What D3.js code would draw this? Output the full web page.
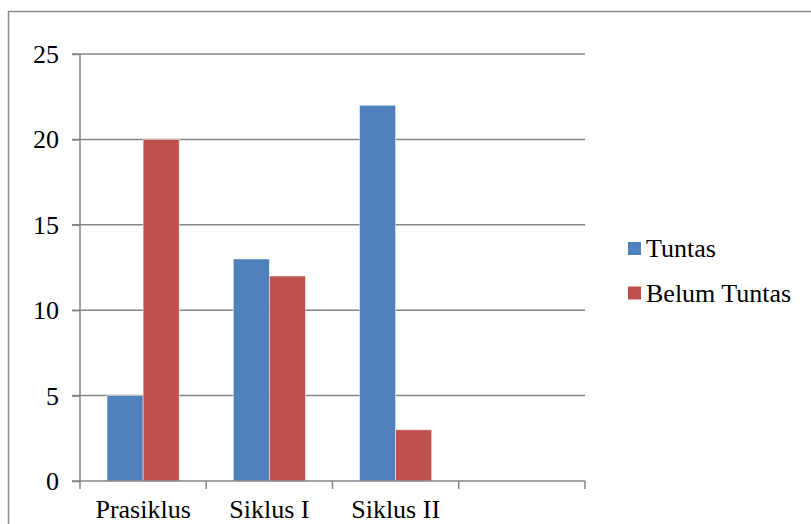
<!DOCTYPE html>
<html>
<head>
<meta charset="utf-8">
<script src="https://cdn.jsdelivr.net/npm/d3@7"></script>
<style>
  html, body { margin: 0; padding: 0; background: #fff; }
  svg { display: block; }
  svg text { font-family: "Times New Roman", "Liberation Serif", "DejaVu Serif", serif !important; fill: #000; }
</style>
</head>
<body>
<div id="chart"></div>
<script>
const categories = ["Prasiklus", "Siklus I", "Siklus II", ""];
const seriesNames = ["Tuntas", "Belum Tuntas"];
const tuntas = [5, 13, 22, null];
const belumTuntas = [20, 12, 3, null];
const yTicks = [0, 5, 10, 15, 20, 25];
const colors = ["#4F81BD", "#C0504D"];

(function () {
const W = 811, H = 524;
const svg = d3.select("#chart").append("svg").attr("width", W).attr("height", H);

// outer frame
svg.append("rect").attr("x", 8.5).attr("y", 11.5).attr("width", 830).attr("height", 540)
  .attr("fill", "none").attr("stroke", "#8c8c8c").attr("stroke-width", 1.5);

const pLeft = 80, pRight = 585, pTop = 54, pBottom = 481;
const x0 = d3.scaleBand().domain(categories).range([pLeft, pRight]).paddingInner(0).paddingOuter(0);
const bw = x0.bandwidth();
const barW = bw / 3.5;
const x1 = d3.scaleBand().domain(seriesNames).range([barW * 0.75, barW * 2.75]).padding(0);
const y = d3.scaleLinear().domain([0, 25]).range([pBottom, pTop]);

const gridColor = "#868686";

// gridlines
svg.append("g").selectAll("line").data(yTicks.filter(d => d > 0)).join("line")
  .attr("x1", pLeft - 8).attr("x2", pRight)
  .attr("y1", d => y(d)).attr("y2", d => y(d))
  .attr("stroke", gridColor).attr("stroke-width", 1.5);

// bars
const data = categories.map((c, i) => ({ c, vals: [tuntas[i], belumTuntas[i]] }));
const groups = svg.append("g").selectAll("g").data(data).join("g")
  .attr("transform", d => `translate(${x0(d.c)},0)`);
groups.selectAll("rect").data(d => d.vals.map((v, j) => ({ v, s: seriesNames[j], j })).filter(e => e.v != null))
  .join("rect")
  .attr("x", e => x1(e.s)).attr("width", x1.bandwidth())
  .attr("y", e => y(e.v)).attr("height", e => y(0) - y(e.v))
  .attr("fill", e => colors[e.j])
  .attr("stroke", "rgba(255,255,255,0.6)").attr("stroke-width", 0.8);

// y axis
const yAxis = d3.axisLeft(y).tickValues(yTicks).tickSize(8).tickPadding(13);
const yg = svg.append("g").attr("transform", `translate(${pLeft},0)`).call(yAxis)
  .attr("font-family", null).attr("font-size", null);
yg.select(".domain").attr("stroke", gridColor).attr("stroke-width", 1.5).attr("d", `M0,${pTop}V${pBottom}`);
yg.selectAll(".tick line").attr("stroke", gridColor).attr("stroke-width", 1.5);
yg.selectAll(".tick text").style("font-size", "26px").attr("dy", "0.33em").attr("fill", "#000");

// x axis
const xAxis = d3.axisBottom(x0).tickSize(0).tickPadding(0);
const xg = svg.append("g").attr("transform", `translate(0,${pBottom})`).call(xAxis)
  .attr("font-family", null).attr("font-size", null);
xg.select(".domain").attr("stroke", gridColor).attr("stroke-width", 1.5).attr("d", `M${pLeft - 8},0H${pRight}`);
xg.selectAll(".tick line").remove();
xg.selectAll(".tick text").style("font-size", "26px").attr("y", 36.5).attr("dy", 0).attr("fill", "#000");
// category boundary ticks
const bounds = categories.map(c => x0(c)).concat([pRight]);
xg.append("g").selectAll("line").data(bounds).join("line")
  .attr("x1", d => d).attr("x2", d => d).attr("y1", 0).attr("y2", 8)
  .attr("stroke", gridColor).attr("stroke-width", 1.5);

// legend
const lg = svg.append("g").attr("transform", "translate(628,0)");
const legendY = [248.5, 293];
seriesNames.forEach((s, i) => {
  lg.append("rect").attr("x", 0).attr("y", legendY[i] - 6.5).attr("width", 13).attr("height", 13).attr("fill", colors[i]);
  lg.append("text").attr("x", 18).attr("y", legendY[i] + 8.5).style("font-size", "26px").text(s);
});
})();
</script>
</body>
</html>
